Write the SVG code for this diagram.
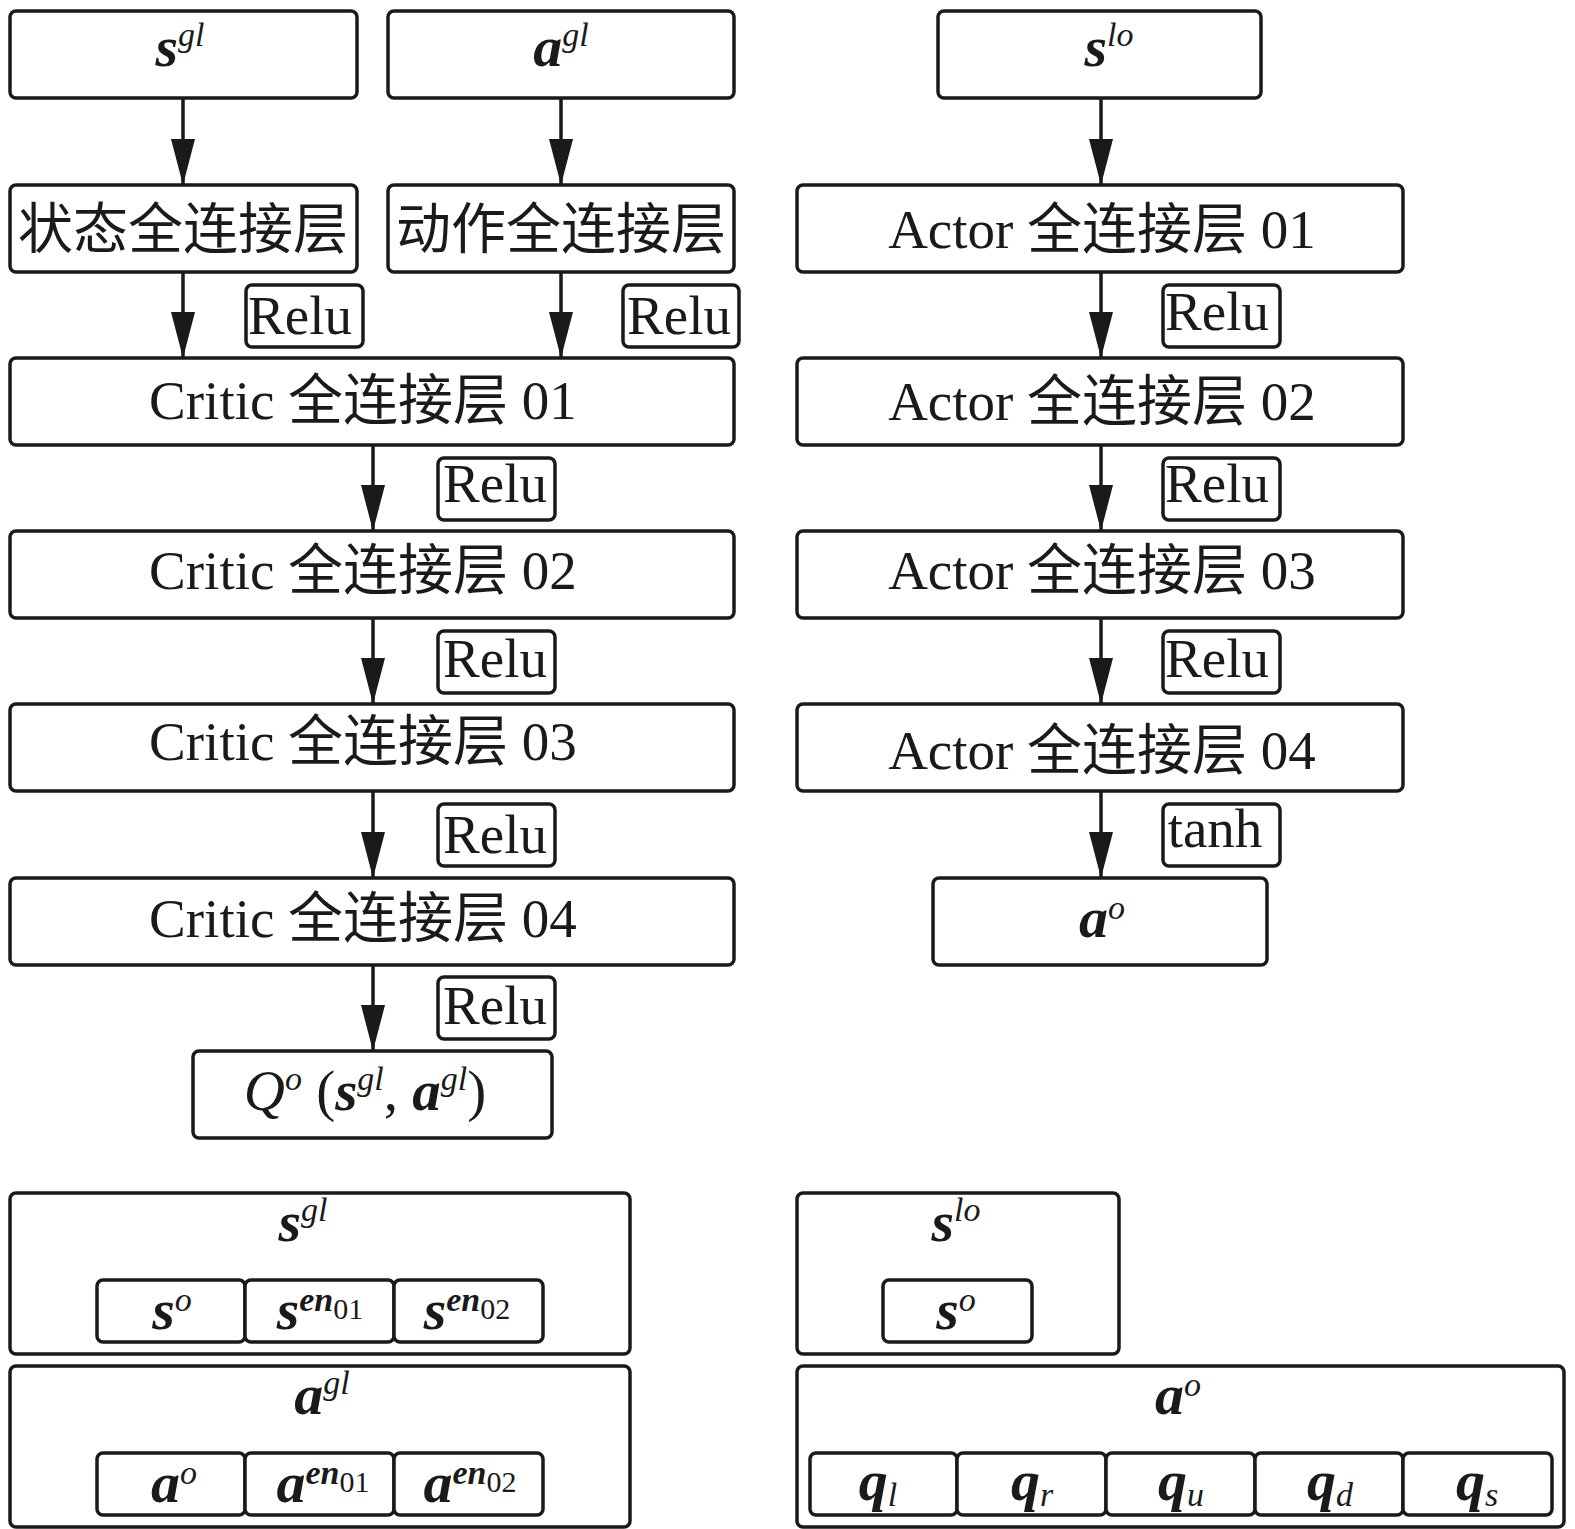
<svg xmlns="http://www.w3.org/2000/svg" width="1575" height="1529" viewBox="0 0 1575 1529">
<style>
.b{fill:#fff;stroke:#1a1a1a;stroke-width:3.5}
.t{font-family:"Liberation Serif","Noto Sans CJK SC",serif;font-size:55px;fill:#1a1a1a;text-anchor:middle}
.m{font-family:"Liberation Serif",serif;font-size:58px;fill:#1a1a1a;text-anchor:middle}
.bi{font-weight:bold;font-style:italic}
.it{font-style:italic;font-weight:normal}
.sp{font-size:34px;font-style:italic}
.sb{font-size:30px;font-style:normal;font-weight:normal}
.c{stroke:#1a1a1a;stroke-width:3.5;fill:none;marker-end:url(#ah)}
</style>
<defs>
<marker id="ah" markerUnits="userSpaceOnUse" markerWidth="46" markerHeight="24" refX="46" refY="12" orient="auto"><path d="M0,0 L46,12 L0,24 z" fill="#1a1a1a"/></marker>
</defs>
<g id="connectors">
<line class="c" x1="183" y1="98" x2="183" y2="185"/>
<line class="c" x1="561" y1="98" x2="561" y2="185"/>
<line class="c" x1="183" y1="272" x2="183" y2="358"/>
<line class="c" x1="561" y1="272" x2="561" y2="358"/>
<line class="c" x1="373" y1="445" x2="373" y2="531"/>
<line class="c" x1="373" y1="618" x2="373" y2="704"/>
<line class="c" x1="373" y1="791" x2="373" y2="878"/>
<line class="c" x1="373" y1="965" x2="373" y2="1051"/>
<line class="c" x1="1101" y1="98" x2="1101" y2="185"/>
<line class="c" x1="1101" y1="272" x2="1101" y2="358"/>
<line class="c" x1="1101" y1="445" x2="1101" y2="531"/>
<line class="c" x1="1101" y1="618" x2="1101" y2="704"/>
<line class="c" x1="1101" y1="791" x2="1101" y2="878"/>
</g>
<g id="n_sgl"><rect class="b" x="10" y="11" width="347" height="87" rx="6"/><text class="m" x="180" y="66"><tspan class="bi">s</tspan><tspan class="sp" dy="-20">gl</tspan></text></g>
<g id="n_agl"><rect class="b" x="388" y="11" width="346" height="87" rx="6"/><text class="m" x="561" y="66"><tspan class="bi">a</tspan><tspan class="sp" dy="-20">gl</tspan></text></g>
<g id="n_slo"><rect class="b" x="938" y="11" width="323" height="87" rx="6"/><text class="m" x="1109" y="66"><tspan class="bi">s</tspan><tspan class="sp" dy="-20">lo</tspan></text></g>
<g id="n_state"><rect class="b" x="10" y="185" width="347" height="87" rx="6"/><text class="t" x="183" y="248">状态全连接层</text></g>
<g id="n_action"><rect class="b" x="388" y="185" width="346" height="87" rx="6"/><text class="t" x="561" y="248">动作全连接层</text></g>
<g id="n_a1"><rect class="b" x="797" y="185" width="606" height="87" rx="6"/><text class="t" x="1102" y="248">Actor 全连接层 01</text></g>
<g id="n_relu1"><rect class="b" x="246" y="285" width="117" height="62" rx="6"/><text class="t" x="300" y="334">Relu</text></g>
<g id="n_relu2"><rect class="b" x="623" y="285" width="116" height="62" rx="6"/><text class="t" x="679" y="334">Relu</text></g>
<g id="n_relu_a1"><rect class="b" x="1163" y="285" width="117" height="62" rx="6"/><text class="t" x="1217" y="330">Relu</text></g>
<g id="n_c1"><rect class="b" x="10" y="358" width="724" height="87" rx="6"/><text class="t" x="363" y="419">Critic 全连接层 01</text></g>
<g id="n_a2"><rect class="b" x="797" y="358" width="606" height="87" rx="6"/><text class="t" x="1102" y="420">Actor 全连接层 02</text></g>
<g id="n_relu_c1"><rect class="b" x="438" y="458" width="117" height="62" rx="6"/><text class="t" x="495" y="502">Relu</text></g>
<g id="n_relu_a2"><rect class="b" x="1163" y="458" width="117" height="62" rx="6"/><text class="t" x="1217" y="502">Relu</text></g>
<g id="n_c2"><rect class="b" x="10" y="531" width="724" height="87" rx="6"/><text class="t" x="363" y="589">Critic 全连接层 02</text></g>
<g id="n_a3"><rect class="b" x="797" y="531" width="606" height="87" rx="6"/><text class="t" x="1102" y="589">Actor 全连接层 03</text></g>
<g id="n_relu_c2"><rect class="b" x="438" y="631" width="117" height="62" rx="6"/><text class="t" x="495" y="677">Relu</text></g>
<g id="n_relu_a3"><rect class="b" x="1163" y="631" width="117" height="62" rx="6"/><text class="t" x="1217" y="677">Relu</text></g>
<g id="n_c3"><rect class="b" x="10" y="704" width="724" height="87" rx="6"/><text class="t" x="363" y="760">Critic 全连接层 03</text></g>
<g id="n_a4"><rect class="b" x="797" y="704" width="606" height="87" rx="6"/><text class="t" x="1102" y="769">Actor 全连接层 04</text></g>
<g id="n_relu_c3"><rect class="b" x="438" y="804" width="117" height="62" rx="6"/><text class="t" x="495" y="853">Relu</text></g>
<g id="n_tanh"><rect class="b" x="1163" y="804" width="117" height="62" rx="6"/><text class="t" x="1215" y="847">tanh</text></g>
<g id="n_c4"><rect class="b" x="10" y="878" width="724" height="87" rx="6"/><text class="t" x="363" y="937">Critic 全连接层 04</text></g>
<g id="n_ao"><rect class="b" x="933" y="878" width="334" height="87" rx="6"/><text class="m" x="1102" y="937"><tspan class="bi">a</tspan><tspan class="sp" dy="-18">o</tspan></text></g>
<g id="n_relu_c4"><rect class="b" x="438" y="977" width="117" height="62" rx="6"/><text class="t" x="495" y="1024">Relu</text></g>
<g id="n_q"><rect class="b" x="193" y="1051" width="359" height="87" rx="6"/><text class="m" x="365" y="1110" style="font-size:57px"><tspan class="it">Q</tspan><tspan class="sp" dy="-20">o</tspan><tspan dy="20"> (</tspan><tspan class="bi">s</tspan><tspan class="sp" dy="-20">gl</tspan><tspan dy="20">, </tspan><tspan class="bi">a</tspan><tspan class="sp" dy="-20">gl</tspan><tspan dy="20">)</tspan></text></g>
<g id="n_sgl_group"><rect class="b" x="10" y="1193" width="620" height="161" rx="6"/><text class="m" x="303" y="1241"><tspan class="bi">s</tspan><tspan class="sp" dy="-20">gl</tspan></text>
<rect class="b" x="97" y="1280" width="148" height="62" rx="6"/><text class="m" x="172" y="1329"><tspan class="bi">s</tspan><tspan class="sp" dy="-18">o</tspan></text>
<rect class="b" x="245" y="1280" width="149" height="62" rx="6"/><text class="m" x="320" y="1329"><tspan class="bi">s</tspan><tspan class="sp bi" dy="-18">en</tspan><tspan class="sb" dy="8">01</tspan></text>
<rect class="b" x="394" y="1280" width="149" height="62" rx="6"/><text class="m" x="467" y="1329"><tspan class="bi">s</tspan><tspan class="sp bi" dy="-18">en</tspan><tspan class="sb" dy="8">02</tspan></text></g>
<g id="n_agl_group"><rect class="b" x="10" y="1366" width="620" height="161" rx="6"/><text class="m" x="322" y="1414"><tspan class="bi">a</tspan><tspan class="sp" dy="-20">gl</tspan></text>
<rect class="b" x="97" y="1453" width="148" height="62" rx="6"/><text class="m" x="174" y="1502"><tspan class="bi">a</tspan><tspan class="sp" dy="-18">o</tspan></text>
<rect class="b" x="245" y="1453" width="149" height="62" rx="6"/><text class="m" x="323" y="1502"><tspan class="bi">a</tspan><tspan class="sp bi" dy="-18">en</tspan><tspan class="sb" dy="8">01</tspan></text>
<rect class="b" x="394" y="1453" width="149" height="62" rx="6"/><text class="m" x="470" y="1502"><tspan class="bi">a</tspan><tspan class="sp bi" dy="-18">en</tspan><tspan class="sb" dy="8">02</tspan></text></g>
<g id="n_slo_group"><rect class="b" x="797" y="1193" width="322" height="161" rx="6"/><text class="m" x="956" y="1241"><tspan class="bi">s</tspan><tspan class="sp" dy="-20">lo</tspan></text>
<rect class="b" x="883" y="1280" width="149" height="62" rx="6"/><text class="m" x="956" y="1329"><tspan class="bi">s</tspan><tspan class="sp" dy="-18">o</tspan></text></g>
<g id="n_ao_group"><rect class="b" x="797" y="1366" width="767" height="161" rx="6"/><text class="m" x="1178" y="1414"><tspan class="bi">a</tspan><tspan class="sp" dy="-18">o</tspan></text>
<rect class="b" x="810" y="1453" width="147" height="62" rx="6"/><text class="m" x="878" y="1500"><tspan class="bi">q</tspan><tspan class="sp" dy="6">l</tspan></text>
<rect class="b" x="957" y="1453" width="149" height="62" rx="6"/><text class="m" x="1032" y="1500"><tspan class="bi">q</tspan><tspan class="sp" dy="6">r</tspan></text>
<rect class="b" x="1106" y="1453" width="149" height="62" rx="6"/><text class="m" x="1181" y="1500"><tspan class="bi">q</tspan><tspan class="sp" dy="6">u</tspan></text>
<rect class="b" x="1255" y="1453" width="148" height="62" rx="6"/><text class="m" x="1330" y="1500"><tspan class="bi">q</tspan><tspan class="sp" dy="6">d</tspan></text>
<rect class="b" x="1403" y="1453" width="149" height="62" rx="6"/><text class="m" x="1477" y="1500"><tspan class="bi">q</tspan><tspan class="sp" dy="6">s</tspan></text></g>
</svg>
